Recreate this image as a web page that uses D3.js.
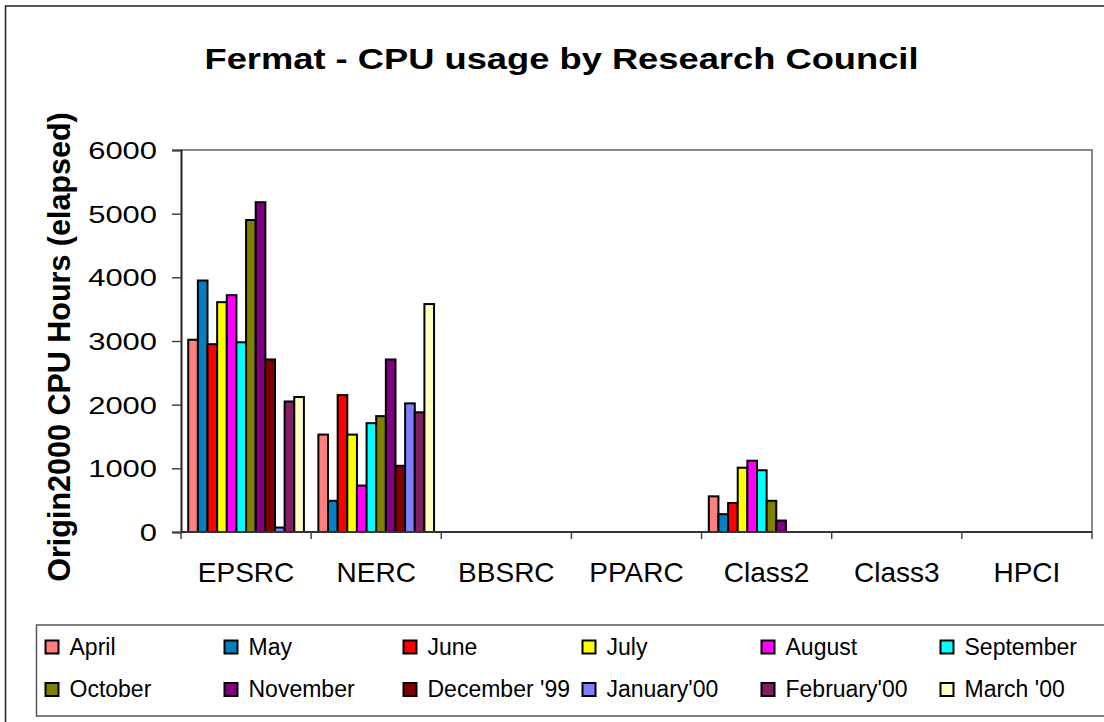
<!DOCTYPE html>
<html>
<head>
<meta charset="utf-8">
<script src="https://cdn.jsdelivr.net/npm/d3@7"></script>
<style>
  body { margin: 0; background: #fff; }
  svg { display: block; font-family: "Liberation Sans", Arial, sans-serif; }
</style>
</head>
<body>
<svg id="chart" width="1104" height="722"></svg>
<script>
// categories along the x axis
const councils = ['EPSRC', 'NERC', 'BBSRC', 'PPARC', 'Class2', 'Class3', 'HPCI'];

// one series per month
const months = ['April', 'May', 'June', 'July', 'August', 'September',
  'October', 'November', "December '99", "January'00", "February'00", "March '00"];

const monthColours = ['#ff8080', '#0080c0', '#ff0000', '#ffff00', '#ff00ff', '#00ffff',
  '#808000', '#800080', '#800000', '#8080ff', '#802060', '#ffffc0'];

// hours per council, in month order (April .. March)
const epsrcHours  = [3020, 3950, 2950, 3610, 3720, 2980, 4900, 5180, 2710, 70, 2050, 2120];
const nercHours   = [1530, 490, 2150, 1530, 730, 1710, 1820, 2710, 1040, 2020, 1880, 3580];
const bbsrcHours  = [0, 0, 0, 0, 0, 0, 0, 0, 0, 0, 0, 0];
const pparcHours  = [0, 0, 0, 0, 0, 0, 0, 0, 0, 0, 0, 0];
const class2Hours = [560, 280, 455, 1010, 1120, 970, 490, 180, 0, 0, 0, 0];
const class3Hours = [0, 0, 0, 0, 0, 0, 0, 0, 0, 0, 0, 0];
const hpciHours   = [0, 0, 0, 0, 0, 0, 0, 0, 0, 0, 0, 0];

const yTicks = [0, 1000, 2000, 3000, 4000, 5000, 6000];

const hoursByCouncil = [epsrcHours, nercHours, bbsrcHours, pparcHours, class2Hours, class3Hours, hpciHours];

let rows = [];
councils.forEach(function(c, ci) {
  months.forEach(function(m, mi) {
    rows.push({ council: c, month: m, colour: monthColours[mi], value: hoursByCouncil[ci][mi] });
  });
});

const svg = d3.select('#chart');

const plot = { left: 181, right: 1092, top: 150, bottom: 532 };

// outer chart border (runs off the right / bottom edge like the original)
svg.append('rect')
  .attr('x', 5.5).attr('y', 6)
  .attr('width', 1200).attr('height', 800)
  .attr('fill', 'none')
  .attr('stroke', '#222')
  .attr('stroke-width', 1.5);

svg.append('text')
  .attr('x', 561.5).attr('y', 68.5)
  .attr('text-anchor', 'middle')
  .attr('font-size', 30)
  .attr('font-weight', 'bold')
  .attr('textLength', 714)
  .attr('lengthAdjust', 'spacingAndGlyphs')
  .text('Fermat - CPU usage by Research Council');

const x = d3.scaleBand()
  .domain(councils)
  .range([plot.left, plot.right])
  .padding(0);

const xMonth = d3.scaleBand()
  .domain(months)
  .range([0, x.bandwidth()])
  .paddingInner(0)
  .paddingOuter(0.75);

const y = d3.scaleLinear()
  .domain([0, 6000])
  .range([plot.bottom, plot.top]);

// plot frame: grey top and right
svg.append('path')
  .attr('d', 'M' + plot.left + ',' + plot.top + 'H' + plot.right + 'V' + plot.bottom)
  .attr('fill', 'none')
  .attr('stroke', '#888')
  .attr('stroke-width', 2);

// bars
svg.append('g')
  .selectAll('rect')
  .data(rows.filter(function(d) { return d.value > 0; }))
  .join('rect')
  .attr('x', function(d) { return x(d.council) + xMonth(d.month); })
  .attr('y', function(d) { return y(d.value); })
  .attr('width', xMonth.bandwidth())
  .attr('height', function(d) { return y(0) - y(d.value); })
  .attr('fill', function(d) { return d.colour; })
  .attr('stroke', '#000')
  .attr('stroke-width', 2);

// y axis
const yAxis = svg.append('g')
  .attr('transform', 'translate(' + plot.left + ',0)')
  .call(d3.axisLeft(y).tickValues(yTicks).tickSize(9).tickPadding(15).tickFormat(d3.format('d')));
yAxis.select('.domain').attr('stroke', '#222').attr('stroke-width', 2);
yAxis.selectAll('.tick line').attr('stroke', '#444').attr('stroke-width', 1.5);
yAxis.selectAll('.tick text')
  .attr('font-size', 24)
  .attr('fill', '#000')
  .attr('dy', '0.36em')
  .attr('font-family', '"Liberation Sans", Arial, sans-serif')
  .each(function(d) {
    let n = String(d).length;
    d3.select(this).attr('textLength', n * 17.2).attr('lengthAdjust', 'spacingAndGlyphs');
  });

// x axis: labels centred, ticks between categories
const xAxis = svg.append('g')
  .attr('transform', 'translate(0,' + plot.bottom + ')')
  .call(d3.axisBottom(x).tickSize(0).tickPadding(30));
xAxis.select('.domain').remove();
xAxis.selectAll('.tick text')
  .attr('font-size', 28)
  .attr('fill', '#000')
  .attr('font-family', '"Liberation Sans", Arial, sans-serif');

svg.append('line')
  .attr('x1', plot.left).attr('x2', plot.right)
  .attr('y1', plot.bottom).attr('y2', plot.bottom)
  .attr('stroke', '#333').attr('stroke-width', 2);

svg.append('g')
  .selectAll('line')
  .data(councils.concat(['end']))
  .join('line')
  .attr('x1', function(d) { return d === 'end' ? plot.right : x(d); })
  .attr('x2', function(d) { return d === 'end' ? plot.right : x(d); })
  .attr('y1', plot.bottom).attr('y2', plot.bottom + 7)
  .attr('stroke', '#444').attr('stroke-width', 1.5);

// y axis title
svg.append('text')
  .attr('transform', 'translate(70,347) rotate(-90)')
  .attr('text-anchor', 'middle')
  .attr('font-size', 30.5)
  .attr('font-weight', 'bold')
  .text('Origin2000 CPU Hours (elapsed)');

// legend
const legend = svg.append('g');
legend.append('rect')
  .attr('x', 36.5).attr('y', 625)
  .attr('width', 1200).attr('height', 91)
  .attr('fill', 'none')
  .attr('stroke', '#555')
  .attr('stroke-width', 1.5);

const legendCol = d3.scaleLinear().domain([0, 1]).range([45.5, 224.5]);
const legendRow = d3.scaleLinear().domain([0, 1]).range([654.5, 697]);

const item = legend.selectAll('g.item')
  .data(months)
  .join('g')
  .attr('class', 'item')
  .attr('transform', function(d, i) {
    return 'translate(' + legendCol(i % 6) + ',' + legendRow(Math.floor(i / 6)) + ')';
  });

item.append('rect')
  .attr('x', 0).attr('y', -14)
  .attr('width', 13).attr('height', 13)
  .attr('fill', function(d, i) { return monthColours[i]; })
  .attr('stroke', '#000')
  .attr('stroke-width', 2);

item.append('text')
  .attr('x', 24).attr('y', 0)
  .attr('font-size', 23)
  .text(function(d) { return d; });
</script>
</body>
</html>
